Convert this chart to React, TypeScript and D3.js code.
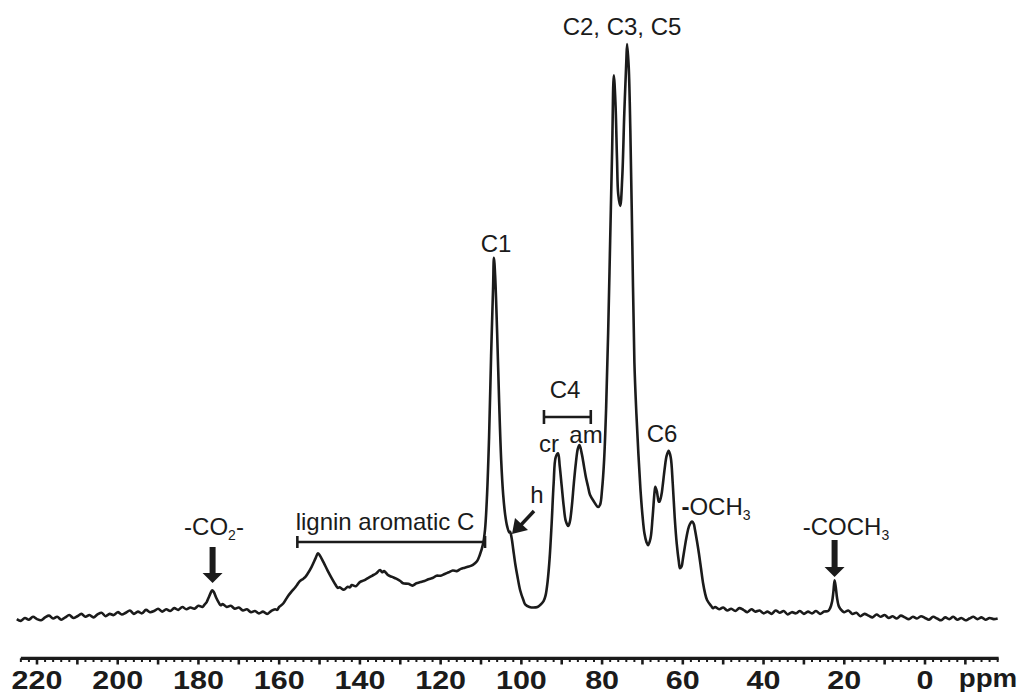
import React from "react";
import * as d3 from "d3";

// spectrum points: [ppm, relative intensity]
const baselineLeft: [number, number][] = [
  [225, 0.5], [224, 0.2], [223, 0.7], [222, 0.4], [221, 0.9], [220, 0.5], [219, 0.3], [218, 0.8],
  [217, 1.1], [216, 0.6], [215, 0.9], [214, 0.4], [213, 0.8], [212, 1.2], [211, 0.7], [210, 1.0],
  [209, 1.4], [208, 0.9], [207, 1.2], [206, 0.8], [205, 1.3], [204, 1.6], [203, 1.0], [202, 1.4],
  [201, 1.2], [200, 1.7], [199, 1.3], [198, 1.6], [197, 2.0], [196, 1.4], [195, 1.8], [194, 1.5],
  [193, 2.1], [192, 1.7], [191, 1.9], [190, 2.3], [189, 1.8], [188, 2.2], [187, 1.9], [186, 2.4],
  [185, 2.1], [184, 2.6], [183, 2.2], [182, 2.5], [181, 2.3], [180, 2.8], [179, 2.6],
];

const carboxylRegion: [number, number][] = [
  [178.5, 3.0], [178, 3.4], [177.5, 4.2], [177, 5.0], [176.6, 5.5], [176.2, 5.2], [175.6, 4.2],
  [175, 3.4], [174.5, 2.9], [174, 3.1], [173, 2.6], [172, 2.8], [171, 2.3], [170, 2.5], [169, 2.0],
  [168, 2.2], [167, 1.7], [166, 1.9], [165, 1.5], [164, 1.8], [163, 1.4], [162, 1.9], [161, 2.2],
  [160.5, 2.1],
];

const ligninRegion: [number, number][] = [
  [160, 2.6], [159, 3.2], [158, 4.3], [157, 5.2], [156, 6.0], [155.5, 6.5], [155, 7.0], [154, 7.5],
  [153.5, 7.8], [153, 8.3], [152, 9.5], [151, 11.0], [150.4, 11.9], [150, 11.6], [149, 10.3],
  [148, 8.9], [147, 7.6], [146, 6.4], [145.5, 5.9], [145, 6.0], [144, 5.6], [143, 6.1], [142.5, 6.0],
  [142, 6.4], [141, 6.2], [140, 6.9], [139, 7.2], [138, 7.6], [137, 8.0], [136, 8.4], [135, 9.0],
  [134.5, 8.6], [134, 8.8], [133, 8.1], [132, 7.8], [131, 7.5], [130, 7.1], [129.3, 6.7], [128, 6.6],
  [127, 6.3], [126, 6.7], [125, 6.9], [124, 7.1], [123, 7.4], [122, 7.6], [121, 8.0], [120, 8.0],
  [119, 8.3], [118, 8.6], [117, 8.9], [116, 8.8], [115, 9.2], [114, 9.4], [113, 9.6], [112, 9.9],
  [111, 10.5], [110.3, 11.6],
];

const carbohydrateRegion: [number, number][] = [
  [109.5, 13.5], [109, 16], [108.5, 22], [108, 32], [107.5, 46], [107, 58], [106.8, 63], [106.5, 60],
  [106, 50], [105.5, 38], [105, 28], [104.5, 22], [104, 18.5], [103.5, 16.5], [103, 15.5],
  [102.8, 15.6], [102.4, 14.5], [102, 12.5], [101.5, 10], [101, 8], [100.3, 5.5], [99.5, 3.8],
  [99, 3.0], [98, 2.6], [97, 2.5], [96, 2.6], [95.4, 2.9], [94.5, 3.6], [94, 4.6], [93.5, 7],
  [93, 11], [92.5, 17], [92, 24], [91.5, 28.5], [90.9, 29.2], [90.5, 27], [90, 23.5], [89.5, 20],
  [89, 17.5], [88.4, 16.6], [88, 17.3], [87.5, 20], [87, 24], [86.5, 27.5], [86, 30], [85.6, 30.6],
  [85, 29], [84.5, 27], [84, 25], [83.5, 23.5], [83, 22], [82, 20.8], [81, 19.9], [80.5, 20.3],
  [80, 23], [79.5, 28], [79, 37], [78.5, 50], [78, 66], [77.5, 82], [77.1, 94.6], [76.7, 90],
  [76.3, 80], [76, 74], [75.5, 72], [75, 77], [74.5, 88], [74, 97], [73.8, 100], [73.4, 96],
  [73, 85], [72.5, 65], [72, 45], [71.5, 36], [71, 29], [70.5, 23], [70, 18.5], [69.5, 15.3],
  [69, 13.8], [68.6, 13.3], [68, 14.5], [67.5, 18], [67, 22.5], [66.8, 23.4], [66.4, 22.5],
  [66, 20.9], [65.8, 20.8], [65.3, 22], [65, 23.5], [64.5, 26.5], [64, 28.8], [63.5, 29.6],
  [63, 28.5], [62.5, 24], [62, 18], [61.5, 13.5], [61, 10.5], [60.7, 9.3], [60.3, 9.6], [60, 10.8],
  [59.5, 13], [59, 15], [58.5, 16.5], [58, 17.2], [57.7, 17.4], [57.3, 17], [57, 16], [56.5, 14],
  [56, 11.8], [55.5, 9.3], [55, 6.8], [54.5, 5], [54, 3.8], [53, 2.8], [52.5, 2.4],
];

const baselineRight: [number, number][] = [
  [52, 2.6], [51, 2.2], [50, 2.5], [49, 2.0], [48, 2.3], [47, 1.9], [46, 2.4], [45, 2.1], [44, 1.7],
  [43, 2.2], [42, 1.8], [41, 2.0], [40, 1.5], [39, 1.8], [38, 1.4], [37, 2.0], [36, 1.6], [35, 1.9],
  [34, 1.3], [33, 1.7], [32, 1.5], [31, 1.9], [30, 1.4], [29, 1.8], [28, 1.5], [27, 1.9], [26, 1.4],
  [25, 1.8], [24, 1.9], [23.5, 2.4], [23, 3.6], [22.7, 5.2], [22.4, 7.2], [22.1, 6.0], [21.8, 4.2],
  [21.4, 2.8], [21, 2.3], [20, 1.7], [19, 2.0], [18, 1.4], [17, 1.6], [16, 1.0], [15, 1.4], [14, 1.1],
  [13, 0.8], [12, 1.3], [11, 0.9], [10, 1.2], [9, 0.7], [8, 1.0], [7, 0.6], [6, 1.1], [5, 0.8],
  [4, 0.5], [3, 0.9], [2, 0.6], [1, 1.0], [0, 0.7], [-1, 0.4], [-2, 0.9], [-3, 0.6], [-4, 0.3],
  [-5, 0.8], [-6, 0.5], [-7, 0.9], [-8, 0.4], [-9, 0.7], [-10, 0.3], [-11, 0.6], [-12, 0.9],
  [-13, 0.5], [-14, 0.8], [-15, 0.4], [-16, 0.7], [-17, 0.5], [-18, 0.6],
];

const tickLabels = [220, 200, 180, 160, 140, 120, 100, 80, 60, 40, 20, 0];

const spectrum = [
  ...baselineLeft,
  ...carboxylRegion,
  ...ligninRegion,
  ...carbohydrateRegion,
  ...baselineRight,
];

const W = 1031;
const H = 695;
const font = "'Liberation Sans', Arial, Helvetica, sans-serif";
const ink = "#1b1b1b";

export default function App() {
  const x = d3.scaleLinear().domain([220, 0]).range([37, 925]);
  const y = d3.scaleLinear().domain([0, 100]).range([622, 44]);

  const line = d3
    .line<[number, number]>()
    .x((d) => x(d[0]))
    .y((d) => y(d[1]))
    .curve(d3.curveCatmullRom.alpha(0.5));

  const axisY = 658.3;
  const minorTicks = d3.range(-18, 225, 2);

  // downward block arrow above a peak
  const blockArrow = (cx: number, top: number, tip: number, key: string) => {
    const headTop = tip - 10;
    return (
      <g key={key}>
        <rect x={cx - 3} y={top} width={6} height={headTop - top + 1} fill={ink} />
        <path d={`M${cx - 10},${headTop} L${cx + 10},${headTop} L${cx},${tip} Z`} fill={ink} />
      </g>
    );
  };

  return (
    <svg
      width={W}
      height={H}
      style={{ position: "absolute", left: 0, top: 0, background: "#fff" }}
    >
      {/* spectrum */}
      <path d={line(spectrum) || ""} fill="none" stroke={ink} strokeWidth={2.6} strokeLinejoin="round" />

      {/* ppm axis */}
      <line x1={x(224)} x2={x(-18) + 1} y1={axisY} y2={axisY} stroke={ink} strokeWidth={3.3} />
      {minorTicks.map((t) => {
        const major = t % 10 === 0;
        return (
          <line
            key={t}
            x1={x(t)}
            x2={x(t)}
            y1={axisY}
            y2={major ? 664.5 : 662}
            stroke={ink}
            strokeWidth={major ? 2.6 : 2}
          />
        );
      })}
      {tickLabels.map((t) => (
        <text
          key={t}
          transform={`translate(${x(t)},689) scale(1.22,1)`}
          textAnchor="middle"
          fontFamily={font}
          fontWeight="bold"
          fontSize={25}
          fill={ink}
        >
          {t}
        </text>
      ))}
      <text
        transform={`translate(988,687) scale(1.11,1)`}
        textAnchor="middle"
        fontFamily={font}
        fontWeight="bold"
        fontSize={25}
        fill={ink}
      >
        ppm
      </text>

      {/* annotations */}
      <g fontFamily={font} fontSize={24} fill={ink} textAnchor="middle">
        <text x={622} y={35}>C2, C3, C5</text>
        <text x={496} y={252}>C1</text>
        <text x={565} y={398}>C4</text>
        <text x={549} y={452}>cr</text>
        <text x={586} y={443}>am</text>
        <text x={662} y={442}>C6</text>
        <text x={537} y={503}>h</text>
        <text x={214} y={535}>
          -CO<tspan fontSize={14} dy={5}>2</tspan>
          <tspan dy={-5}>-</tspan>
        </text>
        <text x={716} y={515}>
          <tspan fontWeight="bold">-</tspan>OCH<tspan fontSize={14} dy={5}>3</tspan>
        </text>
        <text x={846} y={535}>
          -COCH<tspan fontSize={14} dy={5}>3</tspan>
        </text>
        <text x={385} y={530}>lignin aromatic C</text>
      </g>

      {/* lignin bracket */}
      <g stroke={ink} strokeWidth={2.6}>
        <line x1={x(155.5)} x2={x(109)} y1={542} y2={542} />
        <line x1={x(155.5)} x2={x(155.5)} y1={536} y2={548} />
        <line x1={x(109)} x2={x(109)} y1={536} y2={548} />
        {/* C4 bracket */}
        <line x1={x(94.4)} x2={x(82.8)} y1={417} y2={417} />
        <line x1={x(94.4)} x2={x(94.4)} y1={410} y2={424} />
        <line x1={x(82.8)} x2={x(82.8)} y1={410} y2={424} />
        {/* h arrow shaft */}
        <line x1={534} y1={511} x2={520} y2={526} strokeWidth={3.4} />
      </g>
      <path d="M512,534 L515,518 L528,530 Z" fill={ink} />

      {blockArrow(x(176.5), 547, 583, "co2")}
      {blockArrow(x(22.4), 540, 577, "coch3")}
    </svg>
  );
}
